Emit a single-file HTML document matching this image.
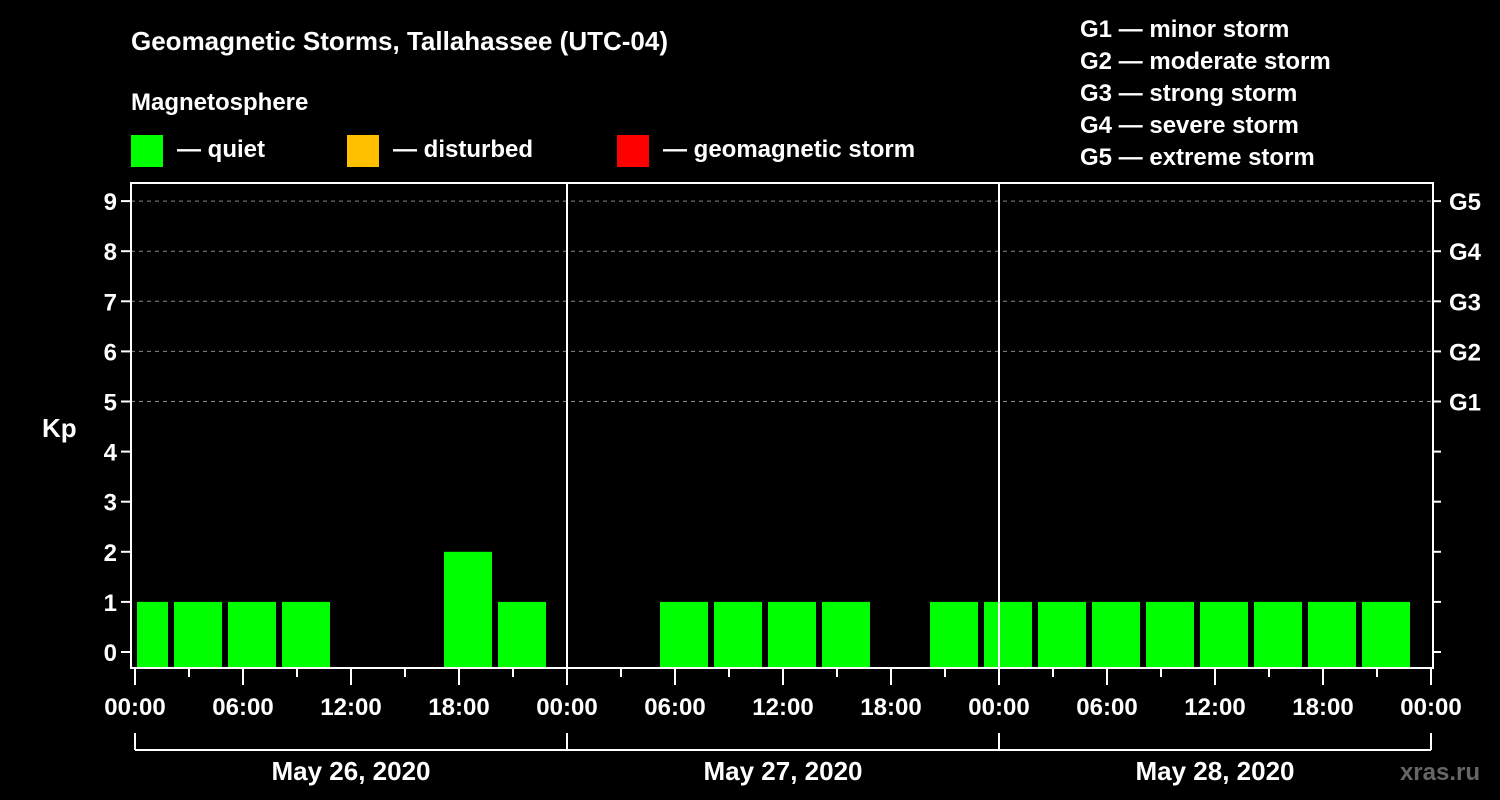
<!DOCTYPE html>
<html><head><meta charset="utf-8"><style>
body{margin:0;background:#000;width:1500px;height:800px;overflow:hidden}
svg{display:block;font-family:"Liberation Sans",Arial,sans-serif;font-weight:bold;fill:#fff}
</style></head><body>
<svg id="chart" width="1500" height="800">
<text x="131" y="50" font-size="26">Geomagnetic Storms, Tallahassee (UTC-04)</text>
<text x="131" y="110" font-size="24">Magnetosphere</text>
<g><rect x="131" y="135" width="32" height="32" fill="#00ff00"/><text x="177" y="157" font-size="24">— quiet</text></g>
<g><rect x="347" y="135" width="32" height="32" fill="#ffc000"/><text x="393" y="157" font-size="24">— disturbed</text></g>
<g><rect x="617" y="135" width="32" height="32" fill="#ff0000"/><text x="663" y="157" font-size="24">— geomagnetic storm</text></g>
<g font-size="24">
<text x="1080" y="37">G1 — minor storm</text><text x="1080" y="69">G2 — moderate storm</text><text x="1080" y="101">G3 — strong storm</text><text x="1080" y="133">G4 — severe storm</text><text x="1080" y="165">G5 — extreme storm</text></g>
<text x="42" y="437" font-size="26">Kp</text>
<text x="1480" y="780" font-size="24" fill="#555" style="fill:#666" text-anchor="end">xras.ru</text>
<g id="grid"></g><g id="bars"></g><g id="axes"></g>
</svg>
<script>
const kpValues=[1,1,1,1,0,0,2,1, 0,0,1,1,1,1,0,1, 1,1,1,1,1,1,1,1];
const yTicks=[0,1,2,3,4,5,6,7,8,9];
const gLabels=["G1","G2","G3","G4","G5"];
const xLabels=["00:00","06:00","12:00","18:00","00:00","06:00","12:00","18:00","00:00","06:00","12:00","18:00","00:00"];
const dates=["May 26, 2020","May 27, 2020","May 28, 2020"];
const NS="http://www.w3.org/2000/svg";
const L=131,R=1433,T=183,B=668,X0=135,PH=18;
const y=v=>652-50.1*v, x=h=>X0+h*PH;
function mk(p,tag,a){const e=document.createElementNS(NS,tag);for(const k in a)e.setAttribute(k,a[k]);p.appendChild(e);return e;}
const grid=document.getElementById('grid'),bars=document.getElementById('bars'),axes=document.getElementById('axes');
[5,6,7,8,9].forEach(v=>{const l=mk(grid,'line',{x1:L,x2:R,y1:y(v),y2:y(v),stroke:'#888','stroke-dasharray':'4,4','stroke-width':1});

});
kpValues.forEach((v,k)=>{if(v<=0)return;let s=x(-1+3*k)+3,e=s+48;s=Math.max(s,L+6);
const col=v>=5?'#ff0000':(v>=4?'#ffc000':'#00ff00');
const r=mk(bars,'rect',{x:s,y:y(v),width:e-s,height:B-y(v),fill:col});

});
mk(axes,'rect',{x:L,y:T,width:R-L,height:B-T,fill:'none',stroke:'#fff','stroke-width':2});
[24,48].forEach(h=>mk(axes,'line',{x1:x(h),x2:x(h),y1:T,y2:B,stroke:'#fff','stroke-width':2}));
yTicks.forEach(v=>{mk(axes,'line',{x1:L-10,x2:L,y1:y(v),y2:y(v),stroke:'#fff','stroke-width':2});
mk(axes,'line',{x1:R,x2:R+8,y1:y(v),y2:y(v),stroke:'#fff','stroke-width':2});
const t=mk(axes,'text',{x:L-14,y:y(v)+9,'font-size':24,'text-anchor':'end'});t.textContent=v;

});
gLabels.forEach((g,i)=>{const t=mk(axes,'text',{x:1449,y:y(5+i)+9,'font-size':24});t.textContent=g;

});
for(let h=0;h<=72;h+=3){const major=h%6===0;mk(axes,'line',{x1:x(h),x2:x(h),y1:B,y2:B+(major?17:9),stroke:'#fff','stroke-width':2});}
xLabels.forEach((s,i)=>{const t=mk(axes,'text',{x:x(i*6),y:715,'font-size':24,'text-anchor':'middle'});t.textContent=s;

});
mk(axes,'line',{x1:x(0),x2:x(72),y1:750,y2:750,stroke:'#fff','stroke-width':2});
[0,24,48,72].forEach(h=>mk(axes,'line',{x1:x(h),x2:x(h),y1:733,y2:750,stroke:'#fff','stroke-width':2}));
dates.forEach((d,i)=>{const t=mk(axes,'text',{x:x(i*24+12),y:780,'font-size':26,'text-anchor':'middle'});t.textContent=d;

});
</script>
</body></html>
